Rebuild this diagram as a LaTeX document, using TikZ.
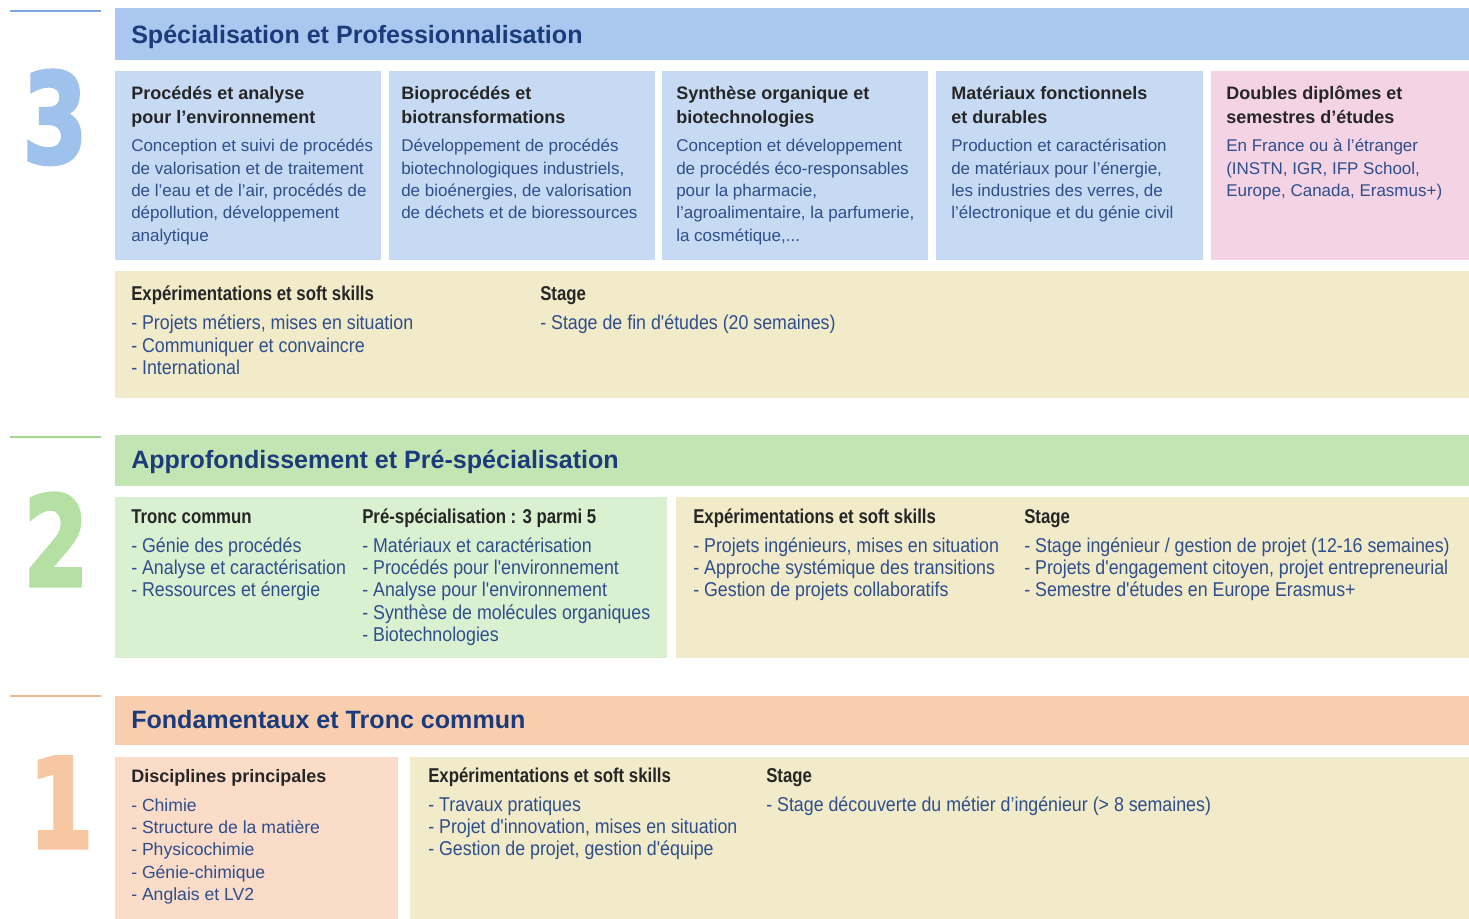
\documentclass[tikz,border=0pt]{standalone}
\usepackage{fontspec}
\setmainfont{Liberation Sans}
\newfontfamily\condreg{Liberation Sans}[FakeStretch=0.89]
\newfontfamily\condbold{Liberation Sans Bold}[FakeStretch=0.84]
\newfontfamily\numfont{DejaVu Sans Bold}[FakeStretch=0.74, FakeBold=2.5]
\newcommand\ml[1]{\begin{tabular}[t]{@{}l@{}}#1\end{tabular}}
\definecolor{blueBar}{HTML}{A9C7EF}
\definecolor{blueBox}{HTML}{C6DAF3}
\definecolor{pinkBox}{HTML}{F4D3E4}
\definecolor{yellowBox}{HTML}{F2EBCA}
\definecolor{greenBar}{HTML}{C3E5B3}
\definecolor{greenBox}{HTML}{D9F1D1}
\definecolor{orangeBar}{HTML}{F9CEAF}
\definecolor{peachBox}{HTML}{FADCC8}
\definecolor{numThree}{HTML}{9FC2EC}
\definecolor{numTwo}{HTML}{B5E0A3}
\definecolor{numOne}{HTML}{F7C6A2}
\definecolor{lineThree}{HTML}{7EA7DE}
\definecolor{lineTwo}{HTML}{A3D894}
\definecolor{lineOne}{HTML}{F3B685}
\definecolor{navy}{HTML}{1B3B7B}
\definecolor{darktxt}{HTML}{262626}
\definecolor{bodyblue}{HTML}{2E4E8C}
\tikzset{
  title/.style={anchor=base west, inner sep=0pt, text=navy, font=\bfseries\fontsize{18.8}{22}\selectfont},
  boxhead/.style={anchor=base west, inner sep=0pt, text=darktxt, font=\bfseries\fontsize{13.5}{17.3}\selectfont},
  boxbody/.style={anchor=base west, inner sep=0pt, text=bodyblue, font=\fontsize{12.75}{16.7}\selectfont},
  peachbody/.style={boxbody, font=\fontsize{13.2}{16.8}\selectfont},
  condhead/.style={anchor=base west, inner sep=0pt, text=darktxt, font=\condbold\fontsize{15}{16.8}\selectfont},
  condbody/.style={anchor=base west, inner sep=0pt, text=bodyblue, font=\condreg\fontsize{15}{16.8}\selectfont},
  bignum/.style={anchor=base, inner sep=0pt, font=\numfont\fontsize{94}{94}\selectfont},
  yearline/.style={line width=1.5pt},
}
\begin{document}
\begin{tikzpicture}[x=0.75pt, y=-0.75pt]
\useasboundingbox (0,0) rectangle (1469,919);
\fill[white] (0,0) rectangle (1469,919);

% ---------- Year 3 ----------
\draw[yearline, lineThree] (10,11) -- (101,11);
\fill[blueBar] (115,8) rectangle (1469,60);
\node[title] (t3) at (131,44) {Spécialisation et Professionnalisation};
\node[bignum, text=numThree] (n3) at (55,163) {3};
\fill[blueBox] (115,71) rectangle (381,260);
\fill[blueBox] (389,71) rectangle (655,260);
\fill[blueBox] (662,71) rectangle (928,260);
\fill[blueBox] (936,71) rectangle (1203,260);
\fill[pinkBox] (1211,71) rectangle (1469,260);
\node[boxhead] (a1h) at (131,100) {\ml{Procédés et analyse\\pour l’environnement}};
\node[boxbody] (a1b) at (131,152) {\ml{Conception et suivi de procédés\\de valorisation et de traitement\\de l’eau et de l’air, procédés de\\dépollution, développement\\analytique}};
\node[boxhead] (a2h) at (401,100) {\ml{Bioprocédés et\\biotransformations}};
\node[boxbody] (a2b) at (401,152) {\ml{Développement de procédés\\biotechnologiques industriels,\\de bioénergies, de valorisation\\de déchets et de bioressources}};
\node[boxhead] (a3h) at (676,100) {\ml{Synthèse organique et\\biotechnologies}};
\node[boxbody] (a3b) at (676,152) {\ml{Conception et développement\\de procédés éco-responsables\\pour la pharmacie,\\l’agroalimentaire, la parfumerie,\\la cosmétique,...}};
\node[boxhead] (a4h) at (951,100) {\ml{Matériaux fonctionnels\\et durables}};
\node[boxbody] (a4b) at (951,152) {\ml{Production et caractérisation\\de matériaux pour l’énergie,\\les industries des verres, de\\l’électronique et du génie civil}};
\node[boxhead] (a5h) at (1226,100) {\ml{Doubles diplômes et\\semestres d’études}};
\node[boxbody] (a5b) at (1226,152) {\ml{En France ou à l’étranger\\(INSTN, IGR, IFP School,\\Europe, Canada, Erasmus+)}};
\fill[yellowBox] (115,271) rectangle (1469,398);
\node[condhead] (y3h1) at (131,301) {Expérimentations et soft skills};
\node[condbody] (y3b1) at (131,330) {\ml{- Projets métiers, mises en situation\\- Communiquer et convaincre\\- International}};
\node[condhead] (y3h2) at (540,301) {Stage};
\node[condbody] (y3b2) at (540,330) {- Stage de fin d'études (20 semaines)};

% ---------- Year 2 ----------
\draw[yearline, lineTwo] (10,437) -- (101,437);
\fill[greenBar] (115,435) rectangle (1469,486);
\node[title] (t2) at (131,468) {Approfondissement et Pré-spécialisation};
\node[bignum, text=numTwo] (n2) at (56,586) {2};
\fill[greenBox] (115,497) rectangle (667,658);
\fill[yellowBox] (676,497) rectangle (1469,658);
\node[condhead] (g2h1) at (131,523) {Tronc commun};
\node[condbody] (g2b1) at (131,552) {\ml{- Génie des procédés\\- Analyse et caractérisation\\- Ressources et énergie}};
\node[condhead] (g2h2) at (362,523) {Pré-spécialisation : 3 parmi 5};
\node[condbody] (g2b2) at (362,552) {\ml{- Matériaux et caractérisation\\- Procédés pour l'environnement\\- Analyse pour l'environnement\\- Synthèse de molécules organiques\\- Biotechnologies}};
\node[condhead] (y2h1) at (693,523) {Expérimentations et soft skills};
\node[condbody] (y2b1) at (693,552) {\ml{- Projets ingénieurs, mises en situation\\- Approche systémique des transitions\\- Gestion de projets collaboratifs}};
\node[condhead] (y2h2) at (1024,523) {Stage};
\node[condbody] (y2b2) at (1024,552) {\ml{- Stage ingénieur / gestion de projet (12-16 semaines)\\- Projets d'engagement citoyen, projet entrepreneurial\\- Semestre d'études en Europe Erasmus+}};

% ---------- Year 1 ----------
\draw[yearline, lineOne] (10,696) -- (101,696);
\fill[orangeBar] (115,696) rectangle (1469,745);
\node[title] (t1) at (131,728) {Fondamentaux et Tronc commun};
\node[bignum, text=numOne] (n1) at (61,848) {1};
\fill[peachBox] (115,757) rectangle (398,919);
\fill[yellowBox] (410,757) rectangle (1469,919);
\node[boxhead] (p1h) at (131,782) {Disciplines principales};
\node[peachbody] (p1b) at (131,811) {\ml{- Chimie\\- Structure de la matière\\- Physicochimie\\- Génie-chimique\\- Anglais et LV2}};
\node[condhead] (y1h1) at (428,782) {Expérimentations et soft skills};
\node[condbody] (y1b1) at (428,811) {\ml{- Travaux pratiques\\- Projet d'innovation, mises en situation\\- Gestion de projet, gestion d'équipe}};
\node[condhead] (y1h2) at (766,782) {Stage};
\node[condbody] (y1b2) at (766,811) {- Stage découverte du métier d’ingénieur (> 8 semaines)};
\end{tikzpicture}
\end{document}
